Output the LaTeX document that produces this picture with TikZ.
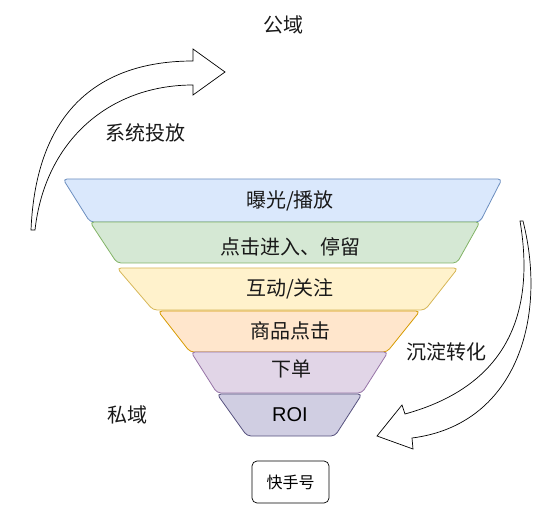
\documentclass[tikz,border=0pt]{standalone}
\usepackage{fontspec}
\setmainfont{Liberation Sans}
\newfontfamily\cjk{Noto Sans CJK SC}
\definecolor{bluef}{HTML}{DAE8FC}\definecolor{blued}{HTML}{6C8EBF}
\definecolor{greenf}{HTML}{D5E8D4}\definecolor{greend}{HTML}{82B366}
\definecolor{yellowf}{HTML}{FFF2CC}\definecolor{yellowd}{HTML}{D6B656}
\definecolor{orangef}{HTML}{FFE6CC}\definecolor{oranged}{HTML}{D79B00}
\definecolor{purplef}{HTML}{E1D5E7}\definecolor{purpled}{HTML}{9673A6}
\definecolor{roif}{HTML}{D0CEE2}\definecolor{roid}{HTML}{56517E}
\tikzset{
  layer/.style={rounded corners=4pt, line width=0.8pt},
  lbl/.style={font=\cjk\fontsize{20}{24}\selectfont, inner sep=0pt, text=black!90},
  smalllbl/.style={font=\cjk\fontsize{16}{19}\selectfont, inner sep=0pt},
  bigarrow/.style={draw=black, fill=white, line width=0.7pt, line join=miter},
  acbox/.style={draw=black, rounded corners=5pt, line width=0.7pt, minimum width=77pt, minimum height=42pt}
}
\begin{document}
\begin{tikzpicture}[x=1pt, y=-1pt]
\useasboundingbox (0,0) rectangle (557,513);
% funnel layers
\draw[layer, fill=bluef, draw=blued] (63,179) -- (502,179) -- (480,222) -- (90,222) -- cycle;
\draw[layer, fill=greenf, draw=greend] (90,222) -- (480,222) -- (457,263) -- (117,263) -- cycle;
\draw[layer, fill=yellowf, draw=yellowd] (117,268) -- (458,268) -- (425,310) -- (153,310) -- cycle;
\draw[layer, fill=orangef, draw=oranged] (158,311) -- (420,311) -- (387,352) -- (190,352) -- cycle;
\draw[layer, fill=purplef, draw=purpled] (191,352) -- (388,352) -- (362,393) -- (217,393) -- cycle;
\draw[layer, fill=roif, draw=roid] (217,394) -- (362,394) -- (335,436) -- (247,436) -- cycle;
% layer texts
\node[lbl] (t1) at (290,201) {曝光/播放};
\node[lbl] (t2) at (290,247) {点击进入、停留};
\node[lbl] (t3) at (290,289) {互动/关注};
\node[lbl] (t4) at (290,331) {商品点击};
\node[lbl] (t5) at (291,369) {下单};
\node[font=\fontsize{20}{24}\selectfont, inner sep=0pt] (t6) at (290,415) {ROI};
% box
\node[acbox] (box) at (290.5,482) {};
\node[smalllbl] (boxt) at (box.center) {快手号};
% labels
\node[lbl] (gong) at (283,25) {公域};
\node[lbl] (xitong) at (145,133) {系统投放};
\node[lbl] (siyu) at (127,415) {私域};
\node[lbl] (chendian) at (446,352) {沉淀转化};
% curved block arrows
\draw[bigarrow] (31,230) .. controls (36,110) and (100,61) .. (193,61) -- (193,49) -- (225,72) -- (193,95) -- (193,85) .. controls (110,85) and (45,140) .. (35,230) -- cycle;
\draw[bigarrow] (523,221) .. controls (548,320) and (515,425) .. (412,438) -- (413,449) -- (377,436) -- (402,405) -- (405,414) .. controls (510,385) and (535,310) .. (520,221) -- cycle;
\end{tikzpicture}
\end{document}
